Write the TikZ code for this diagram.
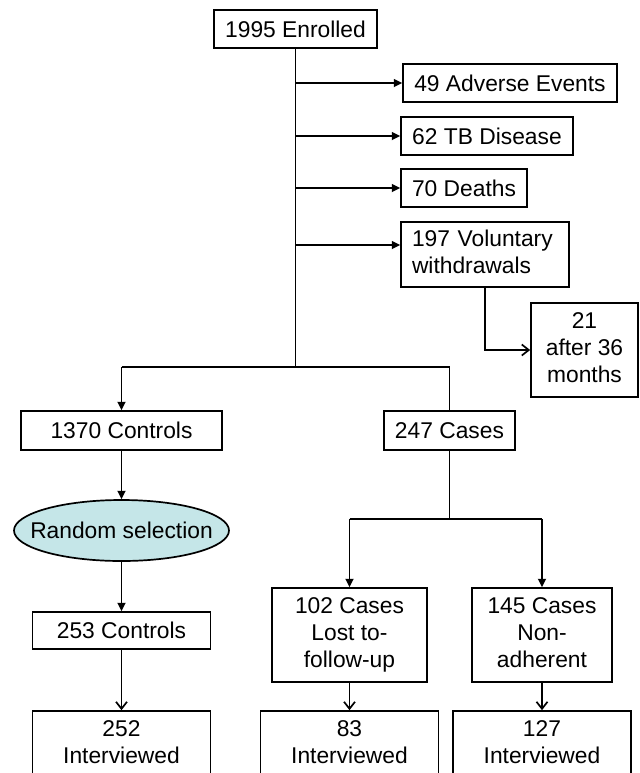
\documentclass[tikz,border=0pt]{standalone}
\usepackage{fontspec}
\setmainfont{Liberation Sans}
\usepackage{tikz}
\usetikzlibrary{calc,shapes.geometric,arrows.meta}
\definecolor{selcolor}{RGB}{197,230,232}
\tikzstyle{process} = [rectangle, draw, line width=0.85pt, text centered, align=center, inner sep=2pt, minimum height=19pt]
\tikzstyle{selection} = [ellipse, draw, line width=0.85pt, fill=selcolor, text centered, minimum width=107.5pt, minimum height=30.5pt]
\tikzstyle{line} = [line width=0.85pt]
\tikzstyle{connector} = [line width=0.85pt,-{Triangle[length=4.2pt,width=4pt]}]
\tikzstyle{openconn} = [line width=0.85pt,-{Straight Barb[length=3.5pt,width=5.5pt]}]

\begin{document}
\begin{tikzpicture}[node distance=26.5pt, font=\fontsize{11.4pt}{13.4pt}\selectfont]
            \useasboundingbox (0,0) rectangle (319.5pt,-386.5pt);
            \clip (0,0) rectangle (319.5pt,-386.5pt);
            \node (enrolled) [process, minimum width=81.5pt] at (147.75pt,-14.5pt) {1995 Enrolled};
            \node (adverse) [process, minimum width=107pt, right of = enrolled, xshift = 80.75pt, yshift = -27pt] {49 Adverse Events};
            \node (tb) [process, minimum width=86pt, below of = adverse, xshift = -11.5pt] {62 TB Disease};
            \node (deaths) [process, minimum width=63pt, below of = tb, xshift = -11.5pt, yshift = 0.5pt] {70 Deaths};
            \node (voluntary) [process, align=left, text width=73pt, inner xsep=5.5pt, minimum height=32.5pt, below of = deaths, xshift = 10.5pt, yshift = -6.75pt] {197 Voluntary\strut\\withdrawals\strut};
            \node (after36) [process, minimum width=53.5pt, minimum height=47pt, right of = voluntary, xshift = 23.25pt, yshift = -47.75pt] {21\strut\\after 36\strut\\months\strut};
            \node (controls) [process, minimum width=100.5pt, minimum height=19.5pt, below of = enrolled, xshift = -87pt, yshift = -174.25pt] {1370 Controls};
            \node (cases) [process, minimum width=65.5pt, minimum height=19.5pt, right of = controls, xshift = 137.5pt] {247 Cases};
            \node (random) [selection, below of = controls, yshift = -23.5pt] {\makebox[0pt]{Random selection}};
            \node (selected) [process, minimum width=89pt, minimum height=18.5pt, below of = random, yshift = -23.5pt] {253 Controls};
            \node (lost) [process, minimum width=77.5pt, minimum height=47pt, below of = cases, xshift = -50pt, yshift = -75.75pt] {102 Cases\strut\\Lost to-\strut\\follow-up\strut};
            \node (nonadh) [process, minimum width=70pt, minimum height=47pt, right of = lost, xshift = 69.75pt] {145 Cases\strut\\Non-\strut\\adherent\strut};
            \node (interviewControls) [process, minimum width=89pt, minimum height=47pt, below of = selected, yshift = -37.25pt] {252\strut\\Interviewed\strut\\\strut};
            \node (interviewLost) [process, minimum width=89pt, minimum height=47pt, below of = lost, yshift = -35pt] {83\strut\\Interviewed\strut\\\strut};
            \node (interviewNonadh) [process, minimum width=89pt, minimum height=47pt, below of = nonadh, yshift = -35pt] {127\strut\\Interviewed\strut\\\strut};
            \coordinate (volIn) at ($(voluntary.west)+(0,4.75pt)$);
            \coordinate (split) at ($(controls.north)+(0,21.5pt)$);
            \coordinate (fork) at ($(cases.south)+(0,-34pt)$);
            \draw [line] (enrolled) -- (enrolled |- split);
            \draw [connector] (enrolled |- adverse.west) -- (adverse.west);
            \draw [connector] (enrolled |- tb.west) -- (tb.west);
            \draw [connector] (enrolled |- deaths.west) -- (deaths.west);
            \draw [connector] (enrolled |- volIn) -- (volIn);
            \draw [openconn] (voluntary.south) |- (after36.west);
            \draw [line] (controls |- split) -- (cases |- split) -- (cases);
            \draw [connector] (controls |- split) -- (controls);
            \draw [connector] (controls) -- (random);
            \draw [connector] (random) -- (selected);
            \draw [openconn] (selected) -- (interviewControls);
            \draw [line] (cases) -- (fork);
            \draw [line] (fork -| lost) -- (fork -| nonadh);
            \draw [connector] (fork -| lost) -- (lost);
            \draw [connector] (fork -| nonadh) -- (nonadh);
            \draw [openconn] (lost) -- (interviewLost);
            \draw [openconn] (nonadh) -- (interviewNonadh);
        \end{tikzpicture}
\end{document}
